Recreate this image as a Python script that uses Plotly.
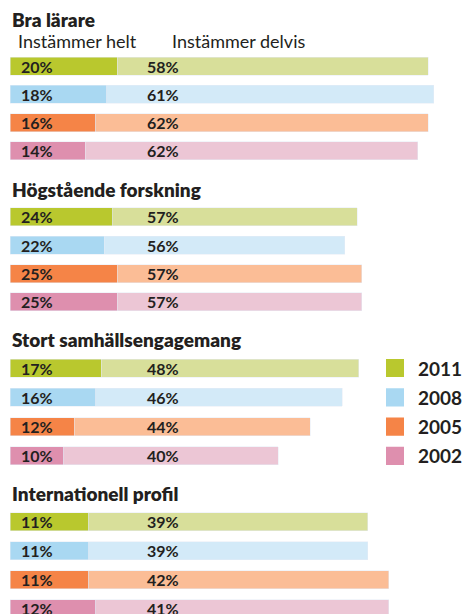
import plotly.graph_objects as go

# --- Data ---
grupper = ["Bra lärare", "Högstående forskning", "Stort samhällsengagemang", "Internationell profil"]
ar = ["2011", "2008", "2005", "2002"]
helt = [[20, 18, 16, 14], [24, 22, 25, 25], [17, 16, 12, 10], [11, 11, 11, 12]]
delvis = [[58, 61, 62, 62], [57, 56, 57, 57], [48, 46, 44, 40], [39, 39, 42, 41]]
rubriker = ["Instämmer helt", "Instämmer delvis"]

mork = ["#b9c82e", "#a9d8f2", "#f58447", "#de8fae"]
ljus = ["#d8df9a", "#d3eaf8", "#fbbd96", "#ecc6d5"]

W, H = 462, 614
TXT = "#231f20"
FONT = "Lato"


def px(p):
    return p / W


def py(p):
    return 1 - p / H


# skala per grupp (max på x-axeln) och placering i pixlar
xmax = [80, 100, 80, 60]
topp = [57, 207.7, 359, 512.7]
steg = [28.3, 28.4, 29.3, 29]
titel_y = [19, 189, 339, 493]
BAR = 18

fig = go.Figure()
annots = []
shapes = []

for g in range(4):
    sfx = "" if g == 0 else str(g + 1)
    top_px = topp[g] - (steg[g] - BAR) / 2
    bot_px = min(top_px + 4 * steg[g], H)
    nrows = (bot_px - top_px) / steg[g]
    fig.update_layout({
        f"xaxis{sfx}": dict(domain=[px(10), px(439)], range=[0, xmax[g]], visible=False,
                            fixedrange=True, anchor=f"y{sfx}"),
        f"yaxis{sfx}": dict(domain=[py(bot_px), py(top_px)], range=[nrows - 0.5, -0.5],
                            visible=False, fixedrange=True, anchor=f"x{sfx}"),
    })
    rader = list(range(4))
    fig.add_trace(go.Bar(x=helt[g], y=rader, orientation="h", marker_color=mork,
                         width=BAR / steg[g], xaxis=f"x{sfx}", yaxis=f"y{sfx}",
                         showlegend=False, hoverinfo="skip"))
    fig.add_trace(go.Bar(x=delvis[g], y=rader, orientation="h", marker_color=ljus,
                         width=BAR / steg[g], xaxis=f"x{sfx}", yaxis=f"y{sfx}",
                         showlegend=False, hoverinfo="skip"))

    # grupprubrik
    annots.append(dict(text=grupper[g], x=px(10), y=py(titel_y[g]), xref="paper", yref="paper",
                       xanchor="left", yanchor="middle", showarrow=False,
                       font=dict(family=FONT, size=19, color=TXT, weight=800)))
    # procentetiketter
    for i in rader:
        annots.append(dict(text=f"{helt[g][i]}%", x=px(19), y=i, xref="paper", yref=f"y{sfx}",
                           xanchor="left", yanchor="middle", showarrow=False,
                           font=dict(family=FONT, size=16, color=TXT, weight=700)))
        annots.append(dict(text=f"{delvis[g][i]}%", x=px(145), y=i, xref="paper", yref=f"y{sfx}",
                           xanchor="left", yanchor="middle", showarrow=False,
                           font=dict(family=FONT, size=16, color=TXT, weight=700)))

# kolumnrubriker
for txt, xp in zip(rubriker, [16, 170]):
    annots.append(dict(text=txt, x=px(xp), y=py(41), xref="paper", yref="paper",
                       xanchor="left", yanchor="middle", showarrow=False,
                       font=dict(family=FONT, size=18, color=TXT)))

# teckenförklaring i höjd med tredje gruppen
for i, a in enumerate(ar):
    shapes.append(dict(type="rect", xref="paper", yref="y3", x0=px(386), x1=px(404),
                       y0=i - 0.31, y1=i + 0.31, fillcolor=mork[i], line_width=0))
    annots.append(dict(text=a, x=px(416), y=i, xref="paper", yref="y3",
                       xanchor="left", yanchor="middle", showarrow=False,
                       font=dict(family=FONT, size=19, color=TXT, weight=700)))

fig.update_layout(
    barmode="stack",
    width=W, height=H,
    margin=dict(l=0, r=0, t=0, b=0),
    paper_bgcolor="white", plot_bgcolor="white",
    annotations=annots, shapes=shapes,
    showlegend=False,
)

# ta bort webbläsarens standardmarginal så att figuren fyller fönstret exakt
fig.write_html("out.html", config={"displayModeBar": False},
               post_script="document.body.style.margin='0';")
